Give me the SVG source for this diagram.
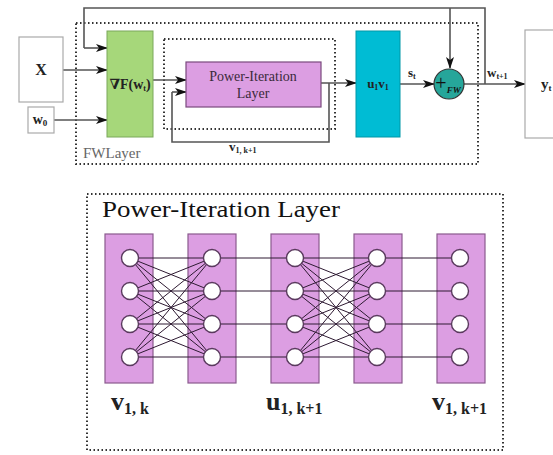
<svg xmlns="http://www.w3.org/2000/svg" width="553" height="455" viewBox="0 0 553 455">
<defs>
<marker id="ah" viewBox="0 0 12 8" refX="11" refY="4" markerWidth="12" markerHeight="8" markerUnits="userSpaceOnUse" orient="auto">
<path d="M0,0 L12,4 L0,8 L3,4 z" fill="#111"/>
</marker>
<style>
.t{font-family:"Liberation Serif","DejaVu Serif",serif;font-weight:bold;fill:#222}
.s{font-family:"Liberation Serif","DejaVu Serif",serif;font-weight:normal}
.ln{fill:none;stroke:#555;stroke-width:1.6}
.arr{fill:none;stroke:#555;stroke-width:1.6;marker-end:url(#ah)}
.dot{fill:none;stroke:#333;stroke-width:2;stroke-dasharray:1.5 2.5}
.wbox{fill:#fff;stroke:#aaa;stroke-width:1.2}
.col{fill:#dc9ee2;stroke:#8a5a8e;stroke-width:1.2}
.nd{fill:#fff;stroke:#5a3a5e;stroke-width:1.4}
.net{fill:none;stroke:#2e1a32;stroke-width:1}
</style>
</defs>
<rect width="553" height="455" fill="#fff"/>

<g id="fwlayer">
<rect class="dot" x="76" y="23" width="402" height="141"/>
<text class="s" x="83" y="158" font-size="15" fill="#666">FWLayer</text>
</g>
<g id="pi-frame">
<rect class="dot" x="164" y="39" width="171" height="90"/>
</g>

<g id="connectors">
<path class="ln" d="M485,84 L485,8 L84,8 L84,48"/>
<path class="arr" d="M84,48 L107,48"/>
<path class="arr" d="M450,8 L450,68"/>
<path class="arr" d="M63,70 L107,70"/>
<path class="arr" d="M54,120 L107,120"/>
<path class="arr" d="M153,80 L186,80"/>
<path class="arr" d="M321,83 L356,83"/>
<path class="ln" d="M329,83 L329,142 L172,142 L172,92"/>
<path class="arr" d="M172,92 L186,92"/>
<path class="arr" d="M400,84 L434,84"/>
<path class="arr" d="M464,84 L525,84"/>
</g>

<g id="x">
<rect class="wbox" x="19" y="37" width="44" height="65"/>
<text class="t" x="41" y="75" font-size="16" text-anchor="middle">X</text>
</g>
<g id="w0">
<rect class="wbox" x="28" y="107" width="26" height="26"/>
<text class="t" x="40" y="124" font-size="14" text-anchor="middle">w<tspan font-size="9" dy="2">0</tspan></text>
</g>
<g id="gradF">
<rect x="107" y="31" width="46" height="106" fill="#a6d77a" stroke="#7aa85a" stroke-width="1"/>
<text class="t" x="130" y="89" font-size="14" text-anchor="middle">∇F(w<tspan font-size="8" dy="2">t</tspan><tspan dy="-2">)</tspan></text>
</g>
<g id="pil">
<rect x="186" y="62" width="135" height="45" fill="#dc9ee2" stroke="#7a4a7e" stroke-width="1.2"/>
<text class="s" x="253" y="81" font-size="14" fill="#3a2a3a" text-anchor="middle">Power-Iteration</text>
<text class="s" x="253" y="98" font-size="14" fill="#3a2a3a" text-anchor="middle">Layer</text>
</g>
<g id="uv">
<rect x="356" y="31" width="44" height="106" fill="#00bcd4" stroke="#0097a7" stroke-width="1"/>
<text class="t" x="378" y="88" font-size="13" text-anchor="middle">u<tspan font-size="8" dy="2">1</tspan><tspan dy="-2">v</tspan><tspan font-size="8" dy="2">1</tspan></text>
</g>
<g id="fwsum">
<circle cx="449" cy="84" r="15" fill="#26a69a" stroke="#333" stroke-width="1.2"/>
<text class="s" x="448" y="90" font-size="20" fill="#111" text-anchor="middle">+<tspan font-size="9" font-style="italic" font-weight="bold" dy="3">FW</tspan></text>
</g>
<g id="yt">
<rect class="wbox" x="525" y="30" width="40" height="108"/>
<text class="t" x="541" y="89" font-size="15">y<tspan font-size="9" dy="2">t</tspan></text>
</g>
<g id="labels-top">
<text class="t" x="408" y="77" font-size="13">s<tspan font-size="8" dy="2">t</tspan></text>
<text class="t" x="487" y="77" font-size="13">w<tspan font-size="8" dy="2">t+1</tspan></text>
<text class="t" x="229" y="151" font-size="13">v<tspan font-size="8" dy="2">1, k+1</tspan></text>
</g>

<g id="pi-detail">
<rect class="dot" x="87" y="194" width="416" height="256"/>
<text class="s" x="102" y="217" font-size="23" fill="#111" textLength="238" lengthAdjust="spacingAndGlyphs">Power-Iteration Layer</text>
</g>

<g id="columns">
<rect class="col" x="105" y="234" width="48" height="149"/>
<rect class="col" x="188" y="234" width="48" height="149"/>
<rect class="col" x="271" y="234" width="48" height="149"/>
<rect class="col" x="354" y="234" width="48" height="149"/>
<rect class="col" x="437" y="234" width="48" height="149"/>
</g>

<g id="network-edges">
<path class="net" d="M130 258L212 258M130 258L212 291M130 258L212 324M130 258L212 357M130 291L212 258M130 291L212 291M130 291L212 324M130 291L212 357M130 324L212 258M130 324L212 291M130 324L212 324M130 324L212 357M130 357L212 258M130 357L212 291M130 357L212 324M130 357L212 357"/>
<path class="net" d="M212 258L295 258M212 291L295 291M212 324L295 324M212 357L295 357"/>
<path class="net" d="M295 258L377 258M295 258L377 291M295 258L377 324M295 258L377 357M295 291L377 258M295 291L377 291M295 291L377 324M295 291L377 357M295 324L377 258M295 324L377 291M295 324L377 324M295 324L377 357M295 357L377 258M295 357L377 291M295 357L377 324M295 357L377 357"/>
<path class="net" d="M377 258L460 258M377 291L460 291M377 324L460 324M377 357L460 357"/>
</g>

<g id="nodes">
<circle class="nd" cx="130" cy="258" r="8.5"/><circle class="nd" cx="130" cy="291" r="8.5"/><circle class="nd" cx="130" cy="324" r="8.5"/><circle class="nd" cx="130" cy="357" r="8.5"/>
<circle class="nd" cx="212" cy="258" r="8.5"/><circle class="nd" cx="212" cy="291" r="8.5"/><circle class="nd" cx="212" cy="324" r="8.5"/><circle class="nd" cx="212" cy="357" r="8.5"/>
<circle class="nd" cx="295" cy="258" r="8.5"/><circle class="nd" cx="295" cy="291" r="8.5"/><circle class="nd" cx="295" cy="324" r="8.5"/><circle class="nd" cx="295" cy="357" r="8.5"/>
<circle class="nd" cx="377" cy="258" r="8.5"/><circle class="nd" cx="377" cy="291" r="8.5"/><circle class="nd" cx="377" cy="324" r="8.5"/><circle class="nd" cx="377" cy="357" r="8.5"/>
<circle class="nd" cx="460" cy="258" r="8.5"/><circle class="nd" cx="460" cy="291" r="8.5"/><circle class="nd" cx="460" cy="324" r="8.5"/><circle class="nd" cx="460" cy="357" r="8.5"/>
</g>

<g id="labels-bottom">
<text class="t" x="111" y="410" font-size="26">v<tspan font-size="16" dy="4">1, k</tspan></text>
<text class="t" x="266" y="410" font-size="26">u<tspan font-size="16" dy="4">1, k+1</tspan></text>
<text class="t" x="432" y="410" font-size="26">v<tspan font-size="16" dy="4">1, k+1</tspan></text>
</g>
</svg>
